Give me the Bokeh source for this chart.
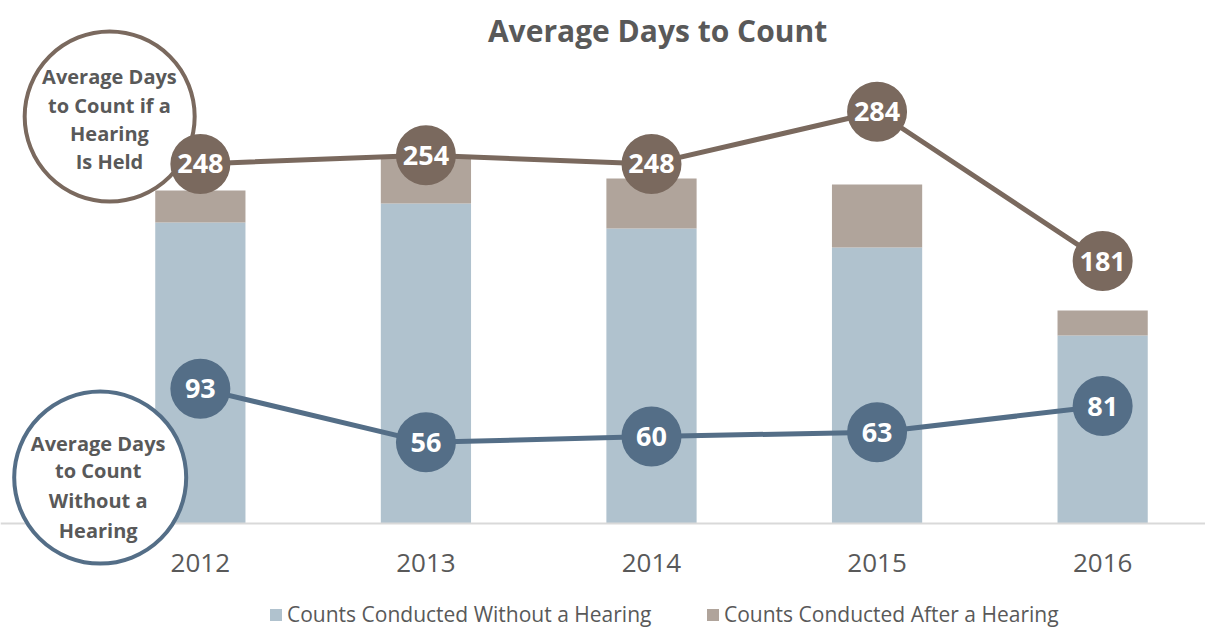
from bokeh.plotting import figure
from bokeh.models import ColumnDataSource, Range1d, LinearAxis, FixedTicker, Legend, LegendItem, Label
from bokeh.core.properties import value
from bokeh.embed import file_html
from bokeh.resources import INLINE

# ---- data ----
years = ["2012", "2013", "2014", "2015", "2016"]
counts_without_hearing = [1505, 1600, 1475, 1380, 940]
counts_after_hearing = [160, 235, 250, 315, 125]
days_if_hearing = [248, 254, 248, 284, 181]
days_without_hearing = [93, 56, 60, 63, 81]

# ---- styles ----
BLUE_BAR = "#B0C2CE"
BROWN_BAR = "#B0A49B"
BROWN = "#7A695E"
BLUE = "#546E87"
GRAY = "#595959"
FONT = "Open Sans"

W, H = 1205, 628
p = figure(width=W, height=H, output_backend="svg", toolbar_location=None,
           x_range=Range1d(-0.886, 4.456), y_range=Range1d(-72.4, 360.7),
           x_axis_location=None, y_axis_location=None, min_border=0,
           outline_line_color=None, background_fill_color="white")
p.grid.visible = False
p.extra_y_ranges = {"counts": Range1d(-525, 2615)}

idx = list(range(len(years)))
totals = [a + b for a, b in zip(counts_without_hearing, counts_after_hearing)]
src = ColumnDataSource(dict(x=idx, without=counts_without_hearing, total=totals,
                            d_hear=days_if_hearing, d_without=days_without_hearing,
                            l_hear=[str(v) for v in days_if_hearing],
                            l_without=[str(v) for v in days_without_hearing]))

b1 = p.vbar(x="x", bottom=0, top="without", width=0.4, source=src, y_range_name="counts",
            fill_color=BLUE_BAR, line_color=None)
b2 = p.vbar(x="x", bottom="without", top="total", width=0.4, source=src, y_range_name="counts",
            fill_color=BROWN_BAR, line_color=None)

# x axis at zero
ax = LinearAxis(fixed_location=0, ticker=FixedTicker(ticks=idx),
                major_label_overrides={i: y for i, y in enumerate(years)},
                axis_line_color="#D9D9D9", axis_line_width=2,
                major_tick_line_color=None, minor_tick_line_color=None,
                major_tick_in=0, major_tick_out=0, major_label_standoff=30,
                major_label_text_font=FONT, major_label_text_font_size="26px",
                major_label_text_color=GRAY)
p.add_layout(ax, "below")

# annotation circles
p.scatter(x=[-0.402], y=[280.7], size=170, fill_color="white", line_color=BROWN, line_width=4)
p.scatter(x=[-0.444], y=[31.7], size=172, fill_color="white", line_color=BLUE, line_width=4,
          level="overlay")

top_lines = ["Average Days", "to Count if a", "Hearing", "Is Held"]
top_y = [308.3, 288.3, 269.0, 249.7]
p.text(x=[-0.403] * 4, y=top_y, text=top_lines, text_font=value(FONT), text_font_style="bold",
       text_font_size="20px", text_color=GRAY, text_align="center", text_baseline="middle")
bot_lines = ["Average Days", "to Count", "Without a", "Hearing"]
bot_y = [55.2, 36.6, 15.9, -4.8]
p.text(x=[-0.453] * 4, y=bot_y, text=bot_lines, text_font=value(FONT), text_font_style="bold",
       text_font_size="20px", text_color=GRAY, text_align="center", text_baseline="middle",
       level="overlay")

# lines
p.line(x="x", y="d_hear", source=src, line_color=BROWN, line_width=5)
p.scatter(x="x", y="d_hear", source=src, size=60, fill_color=BROWN, line_color=None)
p.text(x="x", y="d_hear", text="l_hear", source=src, text_font=value(FONT), text_font_style="bold",
       text_font_size="27px", text_color="white", text_align="center", text_baseline="middle")

p.line(x="x", y="d_without", source=src, line_color=BLUE, line_width=5)
p.scatter(x="x", y="d_without", source=src, size=60, fill_color=BLUE, line_color=None)
p.text(x="x", y="d_without", text="l_without", source=src, text_font=value(FONT), text_font_style="bold",
       text_font_size="27px", text_color="white", text_align="center", text_baseline="middle")

# title
p.add_layout(Label(x=2.027, y=340, text="Average Days to Count", text_font=FONT,
                   text_font_style="bold", text_font_size="30px", text_color=GRAY,
                   text_align="center", text_baseline="middle"))

# legends
for rend, lab, xloc in [(b1, "Counts Conducted Without a Hearing", 268),
                        (b2, "Counts Conducted After a Hearing", 705)]:
    lg = Legend(items=[LegendItem(label=lab, renderers=[rend])], location=(xloc, 0),
                orientation="horizontal", border_line_color=None, background_fill_alpha=0,
                padding=0, margin=0, glyph_width=15, glyph_height=15, label_standoff=4,
                label_text_font=FONT, label_text_font_size="21px", label_text_color=GRAY)
    p.add_layout(lg, "center")

open("out.html", "w").write(file_html(p, INLINE))
